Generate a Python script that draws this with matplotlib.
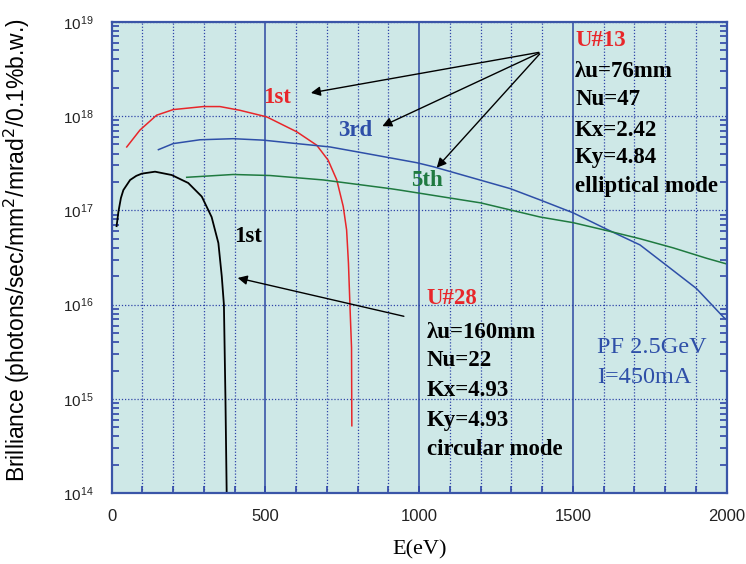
import matplotlib.pyplot as plt
from matplotlib.ticker import MultipleLocator, LogLocator, NullFormatter

# U#13 1st harmonic (red)
e_red = [49, 92, 146, 200, 298, 352, 417, 504, 602, 667, 704, 732, 753, 764, 770, 775, 780, 781]
b_red = [4.7e17, 7.1e17, 1.02e18, 1.17e18, 1.26e18, 1.26e18, 1.15e18, 9.8e17, 6.8e17, 4.9e17,
         3.4e17, 2.1e17, 1.1e17, 6.2e16, 2.75e16, 9.5e15, 3.5e15, 5.2e14]
# U#13 3rd harmonic (blue)
e_blue = [152, 200, 287, 395, 493, 602, 710, 829, 992, 1046, 1296, 1393, 1501, 1610, 1718, 1805, 1902, 1989, 2000]
b_blue = [4.4e17, 5.1e17, 5.6e17, 5.75e17, 5.55e17, 5.1e17, 4.7e17, 4.0e17, 3.2e17, 2.9e17,
          1.7e17, 1.29e17, 9.4e16, 6.3e16, 4.3e16, 2.6e16, 1.48e16, 7.4e15, 6.9e15]
# U#13 5th harmonic (green)
e_green = [244, 395, 515, 688, 905, 937, 1200, 1393, 1501, 1610, 1718, 1826, 1935, 2000]
b_green = [2.24e17, 2.4e17, 2.34e17, 2.1e17, 1.7e17, 1.64e17, 1.2e17, 8.5e16, 7.4e16, 6.1e16,
           5.0e16, 4.0e16, 3.1e16, 2.7e16]
# U#28 1st harmonic (black)
e_black = [16, 22, 30, 38, 60, 80, 98, 141, 195, 249, 293, 325, 347, 358, 365, 370, 374]
b_black = [6.8e16, 9.7e16, 1.35e17, 1.64e17, 2.1e17, 2.32e17, 2.45e17, 2.57e17, 2.37e17, 1.95e17,
           1.4e17, 8.5e16, 4.5e16, 2.0e16, 1.0e16, 1.0e15, 1.0e14]

u13_lines = ["U#13", "λu=76mm", "Nu=47", "Kx=2.42", "Ky=4.84", "elliptical mode"]
u28_lines = ["U#28", "λu=160mm", "Nu=22", "Kx=4.93", "Ky=4.93", "circular mode"]

serif = ["Liberation Serif", "DejaVu Serif"]
narrow = ["Liberation Sans Narrow", "Liberation Sans", "DejaVu Sans"]
gridblue = "#2f45a8"

fig = plt.figure(figsize=(7.46, 5.64), dpi=100)
ax = fig.add_axes([0.1497, 0.1254, 0.8244, 0.8361])
ax.set_facecolor("#cee8e7")

ax.plot(e_red, b_red, color="#e8262a", lw=1.1)
ax.plot(e_blue, b_blue, color="#2e4fa8", lw=1.1)
ax.plot(e_green, b_green, color="#1f7a40", lw=1.1)
ax.plot(e_black, b_black, color="black", lw=1.3)

ax.set_yscale("log")
ax.set_xlim(0, 2000)
ax.set_ylim(1e14, 1e19)

ax.xaxis.set_major_locator(MultipleLocator(500))
ax.xaxis.set_minor_locator(MultipleLocator(100))
ax.yaxis.set_major_locator(LogLocator(base=10, numticks=10))
ax.yaxis.set_minor_locator(LogLocator(base=10, subs=range(2, 10), numticks=20))
ax.yaxis.set_minor_formatter(NullFormatter())

ax.grid(True, which="minor", axis="x", color=gridblue, ls=(0, (1, 1.5)), lw=0.9)
ax.grid(True, which="major", axis="x", color="#3a55a8", ls="-", lw=1.2)
ax.grid(True, which="major", axis="y", color=gridblue, ls=(0, (1, 1.5)), lw=0.9)

ax.tick_params(which="both", direction="in", color=gridblue, right=True, top=False)
ax.tick_params(axis="x", which="both", length=5, width=1.2, pad=11)
ax.tick_params(axis="y", which="major", length=0, pad=35)
ax.tick_params(axis="y", which="minor", length=5, width=1.2)
for s in ax.spines.values():
    s.set_color("#3a55a8")
    s.set_linewidth(1.6)

for lab in ax.get_xticklabels():
    lab.set_family(narrow)
    lab.set_fontsize(12)
    lab.set_color("#222222")
for lab in ax.get_yticklabels():
    lab.set_family(narrow)
    lab.set_fontsize(11)
    lab.set_color("#222222")
    lab.set_horizontalalignment("left")

ax.set_xlabel("E(eV)", family=serif, fontsize=16, labelpad=12)
ax.set_ylabel("Brilliance (photons/sec/mm$^2$/mrad$^2$/0.1%b.w.)",
              family=["Liberation Sans", "DejaVu Sans"], fontsize=16.5)
ax.yaxis.set_label_coords(-0.13, 0.515)

# harmonic labels
lab_kw = dict(family=serif, fontsize=16.5, weight="bold", ha="center", va="center")
ax.text(538, 10**18.20, "1st", color="#e8262a", **lab_kw)
ax.text(792, 10**17.85, "3rd", color="#2e4fa8", **lab_kw)
ax.text(1026, 10**17.32, "5th", color="#1f7a40", **lab_kw)
ax.text(444, 10**16.72, "1st", color="black", **lab_kw)

# arrows
arr = dict(arrowstyle="-|>", color="black", lw=1.0, mutation_scale=14)
for tx, ty in [(639, 10**18.24), (872, 10**17.88), (1051, 10**17.43)]:
    ax.annotate("", xy=(tx, ty), xytext=(1398, 10**18.68), arrowprops=arr)
ax.annotate("", xy=(401, 10**16.29), xytext=(959, 10**15.87), arrowprops=arr)

# parameter blocks
blk_kw = dict(family=serif, fontsize=16.5, weight="bold", ha="left", va="center")
y13 = [18.806, 18.467, 18.18, 17.85, 17.555, 17.25]
for i, t in enumerate(u13_lines):
    ax.text(1507, 10**y13[i], t, color="#e8262a" if i == 0 else "black", **blk_kw)
y28 = [16.07, 15.71, 15.41, 15.09, 14.77, 14.46]
for i, t in enumerate(u28_lines):
    ax.text(1025, 10**y28[i], t, color="#e8262a" if i == 0 else "black", **blk_kw)
ax.text(1578, 10**15.55, "PF 2.5GeV", color="#2e4fa8", family=serif, fontsize=17.5, ha="left", va="center")
ax.text(1578, 10**15.23, "I=450mA", color="#2e4fa8", family=serif, fontsize=17.5, ha="left", va="center")

fig.savefig("out.png", dpi=100)
